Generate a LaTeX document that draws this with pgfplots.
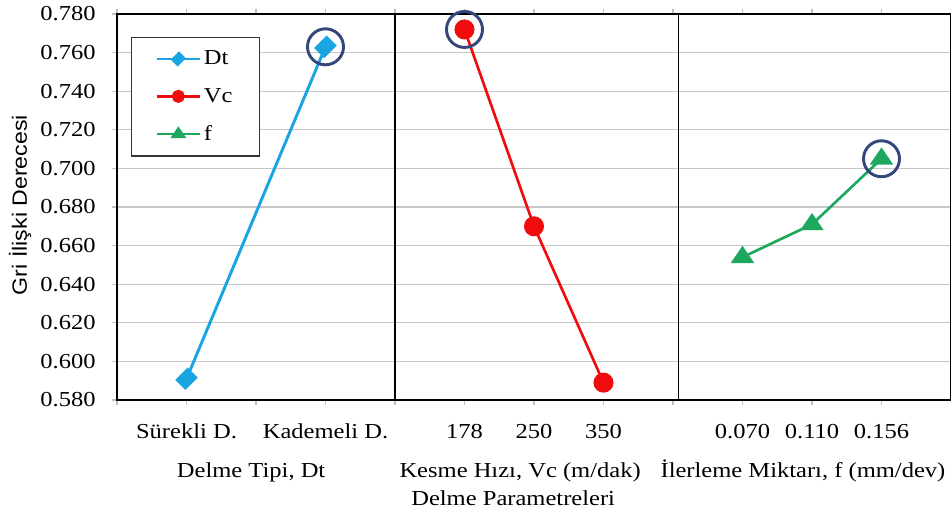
\documentclass[border=0pt]{standalone}
\usepackage{fontspec}
\setmainfont{Liberation Serif}[FakeStretch=1.15]
\newfontfamily\labelsans{Liberation Sans}[FakeStretch=1.12]
\usepackage{pgfplots}
\pgfplotsset{compat=1.18}
\definecolor{dtblue}{RGB}{25,165,225}
\definecolor{vcred}{RGB}{240,12,12}
\definecolor{fgreen}{RGB}{30,168,95}
\definecolor{circblue}{RGB}{52,70,122}
\begin{document}
\begin{tikzpicture}
\path[use as bounding box] (-87.75pt,-83.25pt) rectangle (625.5pt,300pt);
\begin{axis}[
  scale only axis, width=625.5pt, height=289.5pt,
  xmin=0, xmax=12, ymin=0.58, ymax=0.78,
  clip=false,
  font=\fontsize{16}{18}\selectfont,
  ytick={0.58,0.60,0.62,0.64,0.66,0.68,0.70,0.72,0.74,0.76,0.78},
  /pgf/number format/assume math mode=true,
  yticklabel style={xshift=-8.5pt, /pgf/number format/.cd, fixed, fixed zerofill, precision=3},
  ymajorgrids, grid style={color=black!22, line width=1pt},
  xtick={1,3,5,6,7,9,10,11},
  xticklabels={Sürekli D., Kademeli D., 178, 250, 350, 0.070, 0.110, 0.156},
  minor xtick={0,2,4,8},
  tick align=outside, major tick length=4pt, minor tick length=4pt,
  tick style={black!25, line width=0.8pt},
  axis line style={line width=1.6pt},
  xticklabel style={anchor=base, yshift=-24.5pt},
  ylabel={\labelsans\fontsize{15.5}{17}\selectfont Gri İlişki Derecesi},
  ylabel style={at={(axis description cs:-0.1163,0.505)}, anchor=center},
  legend style={at={(0.0168,0.940)}, anchor=north west, draw=black!80, line width=0.8pt,
    font=\fontsize{16}{18}\selectfont, row sep=12pt, inner xsep=18pt, inner ysep=8pt,
    cells={anchor=west}},
  legend image code/.code={\draw[mark repeat=2,mark phase=2,every mark/.append style={scale=0.6}] plot coordinates {(0pt,0pt) (16pt,0pt) (32pt,0pt)};},
]
% separators
\draw[black, line width=1.3pt] (axis cs:4,0.58) -- (axis cs:4,0.78);
\draw[black, line width=1.3pt] (axis cs:8.08,0.58) -- (axis cs:8.08,0.78);

\addplot[dtblue, line width=2.2pt, mark=square*, mark size=5pt, mark options={rotate=45, xscale=1.1, yscale=0.85}]
  coordinates {(1,0.591) (3,0.763)};
\addlegendentry{Dt}
\addplot[vcred, line width=2pt, mark=*, mark size=6.5pt]
  coordinates {(5,0.772) (6,0.670) (7,0.589)};
\addlegendentry{Vc}
\addplot[fgreen, line width=2pt, mark=triangle*, mark size=8pt, mark options={yscale=0.85}]
  coordinates {(9,0.654) (10,0.671) (11,0.705)};
\addlegendentry{f}

\addplot[forget plot, only marks, mark=o, mark size=13.5pt, mark options={draw=circblue, line width=2.2pt}]
  coordinates {(3,0.763) (5,0.772) (11,0.705)};

\node[anchor=base] at (axis cs:1.93,0.58) [yshift=-57.75pt] {Delme Tipi, Dt};
\node[anchor=base] at (axis cs:5.8,0.58) [yshift=-57.75pt] {Kesme Hızı, Vc (m/dak)};
\node[anchor=base] at (axis cs:9.87,0.58) [yshift=-57.75pt] {İlerleme Miktarı, f (mm/dev)};
\node[anchor=base] at (axis cs:5.7,0.58) [yshift=-78.75pt] {Delme Parametreleri};
\end{axis}
\end{tikzpicture}
\end{document}
